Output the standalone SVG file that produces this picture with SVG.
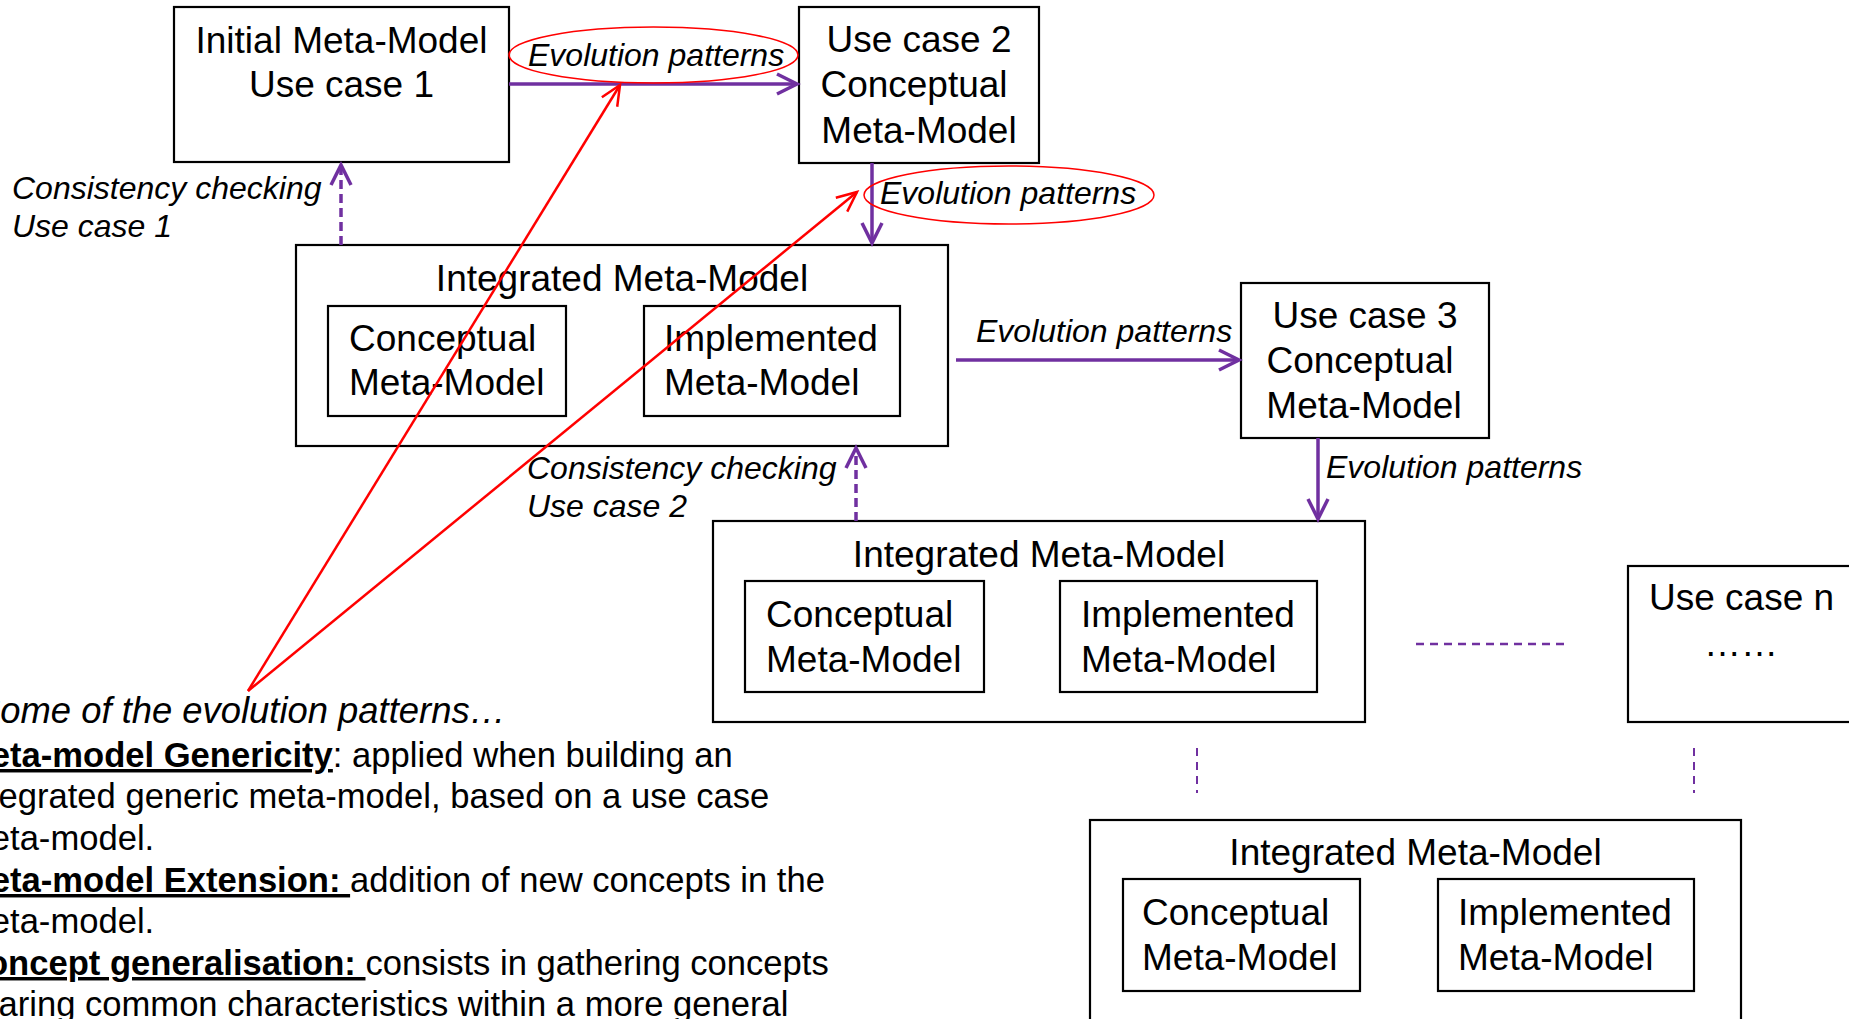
<svg xmlns="http://www.w3.org/2000/svg" width="1849" height="1019" viewBox="0 0 1849 1019">
  <style>
    .box { fill: #ffffff; stroke: #000000; stroke-width: 2.2; }
    .t { font-family: "Liberation Sans", Arial, sans-serif; font-size: 37px; fill: #000000; }
    .c { text-anchor: middle; }
    .lbl { font-family: "Liberation Sans", Arial, sans-serif; font-size: 32px; font-style: italic; fill: #000000; }
    .body { font-family: "Liberation Sans", Arial, sans-serif; font-size: 34.6px; fill: #000000; }
    .head { font-family: "Liberation Sans", Arial, sans-serif; font-size: 36.4px; font-style: italic; fill: #000000; }
    .b { font-weight: bold; text-decoration: underline; }
    .flow { fill: none; stroke: #7030A0; stroke-width: 3.5; }
    .check { fill: none; stroke: #7030A0; stroke-width: 3.5; stroke-dasharray: 9 5; }
    .more { fill: none; stroke: #7030A0; stroke-width: 2.5; stroke-dasharray: 8 6; }
    .more-v { fill: none; stroke: #7030A0; stroke-width: 2; stroke-dasharray: 8 6; }
    .hint { fill: none; stroke: #FF0000; stroke-width: 2.5; }
    .ring { fill: none; stroke: #FF0000; stroke-width: 1.5; }
  </style>
  <defs>
    <marker id="arrowPurple" markerUnits="userSpaceOnUse" markerWidth="30" markerHeight="30" refX="0" refY="0" orient="auto" overflow="visible">
      <path d="M-20,-10 L0,0 L-20,10" fill="none" stroke="#7030A0" stroke-width="3.5"/>
    </marker>
    <marker id="arrowRed" markerUnits="userSpaceOnUse" markerWidth="30" markerHeight="30" refX="0" refY="0" orient="auto" overflow="visible">
      <path d="M-20,-9 L0,0 L-20,9" fill="none" stroke="#FF0000" stroke-width="2.5"/>
    </marker>
  </defs>

  <rect width="1849" height="1019" fill="#ffffff"/>

  <!-- Initial meta-model -->
  <g id="initial-mm">
    <rect class="box" x="174" y="7" width="335" height="155"/>
    <text class="t c" x="341.5" y="53">Initial Meta-Model</text>
    <text class="t c" x="341.5" y="97">Use case 1</text>
  </g>

  <!-- Use case 2 -->
  <g id="use-case-2">
    <rect class="box" x="799" y="7" width="240" height="156"/>
    <text class="t c" x="919" y="52">Use case 2</text>
    <text class="t c" x="914" y="97">Conceptual</text>
    <text class="t c" x="919" y="143">Meta-Model</text>
  </g>

  <!-- Integrated meta-model 1 -->
  <g id="integrated-1">
    <rect class="box" x="296" y="245" width="652" height="201"/>
    <text class="t c" x="622" y="291">Integrated Meta-Model</text>
    <rect class="box" x="328" y="306" width="238" height="110"/>
    <text class="t" x="349" y="351">Conceptual</text>
    <text class="t" x="349" y="395">Meta-Model</text>
    <rect class="box" x="644" y="306" width="256" height="110"/>
    <text class="t" x="664" y="351">Implemented</text>
    <text class="t" x="664" y="395">Meta-Model</text>
  </g>

  <!-- Use case 3 -->
  <g id="use-case-3">
    <rect class="box" x="1241" y="283" width="248" height="155"/>
    <text class="t c" x="1365" y="328">Use case 3</text>
    <text class="t c" x="1360" y="373">Conceptual</text>
    <text class="t c" x="1364" y="418">Meta-Model</text>
  </g>

  <!-- Integrated meta-model 2 -->
  <g id="integrated-2">
    <rect class="box" x="713" y="521" width="652" height="201"/>
    <text class="t c" x="1039" y="567">Integrated Meta-Model</text>
    <rect class="box" x="745" y="581" width="239" height="111"/>
    <text class="t" x="766" y="627">Conceptual</text>
    <text class="t" x="766" y="672">Meta-Model</text>
    <rect class="box" x="1060" y="581" width="257" height="111"/>
    <text class="t" x="1081" y="627">Implemented</text>
    <text class="t" x="1081" y="672">Meta-Model</text>
  </g>

  <!-- Use case n -->
  <g id="use-case-n">
    <rect class="box" x="1628" y="566" width="228" height="156"/>
    <text class="t" x="1649" y="610">Use case n</text>
    <text class="t c" x="1741" y="656">……</text>
  </g>

  <!-- Integrated meta-model n -->
  <g id="integrated-n">
    <rect class="box" x="1090" y="820" width="651" height="220"/>
    <text class="t c" x="1415.5" y="865">Integrated Meta-Model</text>
    <rect class="box" x="1123" y="879" width="237" height="112"/>
    <text class="t" x="1142" y="925">Conceptual</text>
    <text class="t" x="1142" y="970">Meta-Model</text>
    <rect class="box" x="1438" y="879" width="256" height="112"/>
    <text class="t" x="1458" y="925">Implemented</text>
    <text class="t" x="1458" y="970">Meta-Model</text>
  </g>

  <!-- Connectors -->
  <g id="connectors">
    <line class="flow" x1="509" y1="84" x2="797" y2="84" marker-end="url(#arrowPurple)"/>
    <line class="flow" x1="872" y1="163" x2="872" y2="243" marker-end="url(#arrowPurple)"/>
    <line class="flow" x1="956" y1="360" x2="1239" y2="360" marker-end="url(#arrowPurple)"/>
    <line class="flow" x1="1318" y1="438" x2="1318" y2="519" marker-end="url(#arrowPurple)"/>
    <line class="check" x1="341" y1="245" x2="341" y2="165" marker-end="url(#arrowPurple)"/>
    <line class="check" x1="856" y1="521" x2="856" y2="448" marker-end="url(#arrowPurple)"/>
    <line class="more" x1="1416" y1="644" x2="1565" y2="644"/>
    <line class="more-v" x1="1197" y1="748" x2="1197" y2="793"/>
    <line class="more-v" x1="1694" y1="748" x2="1694" y2="793"/>

    <text class="lbl" x="976" y="342">Evolution patterns</text>
    <text class="lbl" x="1326" y="478">Evolution patterns</text>
    <text class="lbl" x="12" y="199">Consistency checking</text>
    <text class="lbl" x="12" y="237">Use case 1</text>
    <text class="lbl" x="527" y="479">Consistency checking</text>
    <text class="lbl" x="527" y="517">Use case 2</text>

    <ellipse class="ring" cx="653.5" cy="55" rx="144.5" ry="28"/>
    <text class="lbl" x="528" y="66">Evolution patterns</text>
    <ellipse class="ring" cx="1009" cy="195" rx="145" ry="29"/>
    <text class="lbl" x="880" y="204">Evolution patterns</text>

    <line class="hint" x1="248" y1="691" x2="620" y2="85" marker-end="url(#arrowRed)"/>
    <line class="hint" x1="248" y1="691" x2="857" y2="192" marker-end="url(#arrowRed)"/>
  </g>

  <!-- Notes on evolution patterns -->
  <g id="notes">
    <text class="head" x="-24" y="723">Some of the evolution patterns…</text>
    <text class="body" x="-38" y="767"><tspan class="b">Meta-model Genericity</tspan>: applied when building an</text>
    <text class="body" x="-38" y="808">integrated generic meta-model, based on a use case</text>
    <text class="body" x="-38" y="850">meta-model.</text>
    <text class="body" x="-38" y="892"><tspan class="b">Meta-model Extension: </tspan>addition of new concepts in the</text>
    <text class="body" x="-38" y="933">meta-model.</text>
    <text class="body" x="-38" y="975"><tspan class="b">Concept generalisation: </tspan>consists in gathering concepts</text>
    <text class="body" x="-38" y="1016">sharing common characteristics within a more general</text>
  </g>
</svg>
